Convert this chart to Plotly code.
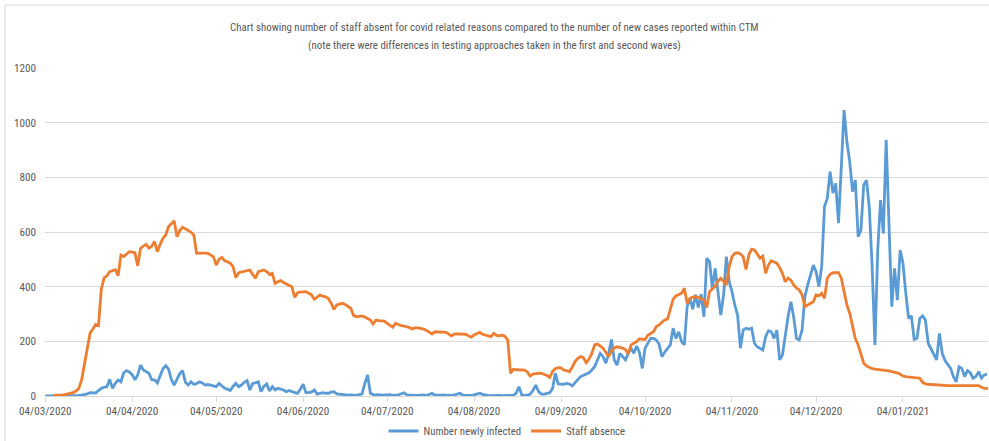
import pandas as pd
import plotly.graph_objects as go

# ---------------- data ----------------
infected_start = "2020-03-04"
absence_start = "2020-03-07"

newly_infected = [
    0, 0, 0, 0, 0, 0, 0, 0, 0, 1,
    1, 2, 2, 3, 5, 8, 12, 12, 11, 20,
    28, 32, 34, 61, 28, 46, 58, 52, 85, 93,
    88, 78, 59, 77, 113, 95, 89, 83, 59, 59,
    48, 75, 100, 111, 98, 60, 40, 62, 82, 93,
    50, 40, 52, 43, 45, 52, 48, 40, 42, 40,
    38, 34, 46, 38, 28, 25, 20, 35, 46, 34,
    40, 50, 56, 22, 46, 48, 52, 16, 35, 44,
    18, 34, 22, 28, 26, 22, 16, 20, 16, 12,
    10, 25, 43, 12, 12, 15, 22, 7, 10, 12,
    10, 10, 14, 16, 8, 7, 4, 5, 3, 4,
    3, 2, 5, 7, 45, 77, 10, 5, 4, 5,
    3, 4, 3, 5, 2, 3, 4, 8, 12, 4,
    3, 2, 3, 2, 3, 4, 2, 5, 10, 3,
    2, 3, 4, 2, 3, 2, 4, 6, 10, 3,
    2, 3, 2, 4, 8, 10, 6, 3, 2, 1,
    2, 1, 2, 1, 2, 1, 2, 3, 10, 34,
    4, 2, 3, 7, 20, 40, 16, 7, 7, 10,
    12, 28, 83, 44, 44, 43, 46, 44, 37, 50,
    60, 71, 75, 80, 85, 95, 107, 132, 156, 144,
    120, 156, 207, 132, 113, 156, 144, 132, 156, 175,
    156, 183, 159, 101, 175, 193, 211, 211, 205, 189,
    144, 160, 175, 187, 248, 211, 235, 199, 187, 327,
    357, 317, 370, 324, 373, 290, 504, 491, 394, 467,
    382, 296, 370, 510, 418, 382, 333, 296, 175, 241,
    248, 244, 248, 193, 180, 175, 168, 217, 239, 235,
    211, 241, 132, 150, 229, 290, 345, 290, 211, 205,
    241, 363, 406, 440, 479, 455, 400, 473, 693, 723,
    821, 742, 778, 632, 839, 1046, 930, 857, 748, 790,
    583, 607, 772, 790, 687, 473, 187, 534, 717, 595,
    937, 656, 327, 467, 351, 534, 486, 376, 284, 293,
    207, 211, 284, 293, 278, 193, 171, 150, 132, 229,
    156, 130, 113, 101, 71, 52, 107, 101, 71, 93,
    85, 65, 71, 89, 65, 77, 80,
]

staff_absence = [
    2, 2, 3, 4, 5, 7, 9, 12, 18, 28,
    60, 120, 175, 230, 245, 262, 258, 390, 432, 440,
    455, 460, 462, 440, 515, 510, 520, 528, 526, 524,
    476, 540, 548, 555, 541, 548, 565, 528, 555, 577,
    589, 620, 630, 641, 583, 605, 617, 612, 608, 600,
    589, 522, 523, 524, 523, 522, 515, 510, 479, 500,
    507, 495, 491, 486, 473, 433, 451, 453, 455, 458,
    461, 445, 431, 455, 458, 461, 455, 445, 449, 412,
    418, 422, 415, 409, 404, 400, 361, 378, 380, 381,
    382, 376, 370, 354, 362, 370, 365, 363, 357, 340,
    317, 333, 336, 339, 335, 329, 321, 295, 290, 291,
    293, 289, 282, 278, 263, 278, 276, 275, 274, 266,
    260, 251, 266, 260, 257, 256, 254, 250, 245, 250,
    249, 248, 245, 240, 235, 227, 235, 234, 234, 233,
    233, 226, 220, 227, 227, 226, 226, 226, 220, 215,
    223, 228, 233, 226, 223, 220, 217, 229, 222, 220,
    223, 218, 205, 83, 98, 96, 95, 95, 95, 88,
    73, 80, 83, 84, 83, 80, 75, 68, 90, 100,
    104, 103, 95, 93, 89, 105, 126, 138, 144, 140,
    122, 135, 156, 187, 190, 183, 175, 160, 144, 165,
    176, 180, 178, 175, 170, 154, 187, 193, 199, 209,
    208, 207, 222, 229, 235, 254, 260, 270, 278, 281,
    315, 354, 366, 372, 376, 394, 339, 357, 362, 363,
    361, 356, 351, 324, 382, 392, 400, 420, 431, 420,
    406, 473, 510, 522, 524, 520, 510, 463, 516, 537,
    534, 520, 504, 512, 449, 479, 495, 490, 486, 470,
    449, 418, 431, 424, 406, 395, 388, 370, 327, 333,
    340, 345, 370, 366, 376, 357, 431, 445, 451, 451,
    451, 431, 376, 333, 303, 254, 210, 187, 150, 120,
    110, 104, 100, 98, 97, 96, 95, 95, 92, 89,
    88, 85, 80, 73, 71, 70, 68, 67, 66, 65,
    50, 44, 43, 42, 41, 40, 40, 39, 38, 38,
    38, 38, 38, 38, 38, 38, 38, 38, 38, 38,
    38, 32, 28, 28, 28,
]

tick_dates = ["2020-03-04", "2020-04-04", "2020-05-04", "2020-06-04", "2020-07-04",
              "2020-08-04", "2020-09-04", "2020-10-04", "2020-11-04", "2020-12-04",
              "2021-01-04"]
tick_labels = ["04/03/2020", "04/04/2020", "04/05/2020", "04/06/2020", "04/07/2020",
               "04/08/2020", "04/09/2020", "04/10/2020", "04/11/2020", "04/12/2020",
               "04/01/2021"]
y_ticks = [0, 200, 400, 600, 800, 1000, 1200]

series_names = ["Number newly infected", "Staff absence"]
title_lines = [
    "Chart showing number of staff absent for covid related reasons compared to the number of new cases reported within CTM",
    "(note there were differences in testing approaches taken in the first and second waves)",
]

# ---------------- figure ----------------
inf_dates = pd.date_range(infected_start, periods=len(newly_infected), freq="D")
abs_dates = pd.date_range(absence_start, periods=len(staff_absence), freq="D")

BLUE = "#5B9BD5"
ORANGE = "#ED7D31"
GREY_TXT = "#595959"
GRID = "#D9D9D9"
FONT = "Liberation Sans Narrow, Arial Narrow, Roboto Condensed, Liberation Sans, sans-serif"

fig = go.Figure()
fig.add_trace(go.Scatter(x=inf_dates, y=newly_infected, mode="lines",
                         name=series_names[0],
                         line=dict(color=BLUE, width=2.8)))
fig.add_trace(go.Scatter(x=abs_dates, y=staff_absence, mode="lines",
                         name=series_names[1],
                         line=dict(color=ORANGE, width=2.8)))

W, H = 989, 441
L, R, T, B = 45, 1, 68, 45
pw, ph = W - L - R, H - T - B

annotations = []
for line, yc in zip(title_lines, [27, 45]):
    annotations.append(dict(text=line, xref="paper", yref="paper",
                            x=(494 - L) / pw, xanchor="center",
                            y=(T + ph - yc) / ph, yanchor="middle",
                            showarrow=False,
                            font=dict(family=FONT, size=10.9, color=GREY_TXT)))

fig.update_layout(
    width=W, height=H,
    margin=dict(l=L, r=R, t=T, b=B, autoexpand=False),
    paper_bgcolor="white", plot_bgcolor="white",
    font=dict(family=FONT, size=10, color=GREY_TXT),
    annotations=annotations,
    showlegend=True,
    legend=dict(orientation="h", xref="container", yref="container",
                x=507 / W, xanchor="center",
                y=1 - 431 / H, yanchor="middle",
                font=dict(family=FONT, size=10.8, color=GREY_TXT),
                itemwidth=30, tracegroupgap=0),
    xaxis=dict(type="date", automargin=False,
               range=["2020-03-03 22:00", "2021-02-03 08:00"],
               tickvals=tick_dates, ticktext=tick_labels,
               showgrid=False, showline=True, linecolor=GRID, linewidth=1,
               ticks="outside", ticklen=5, tickcolor=GRID,
               tickfont=dict(family=FONT, size=11.2, color=GREY_TXT),
               zeroline=False),
    yaxis=dict(range=[0, 1200], tickvals=y_ticks, automargin=False,
               showgrid=True, gridcolor=GRID, gridwidth=1,
               showline=False, zeroline=False, ticks="",
               ticklabelstandoff=8,
               tickfont=dict(family=FONT, size=11.2, color=GREY_TXT)),
    shapes=[dict(type="rect", xref="paper", yref="paper",
                 x0=(5 - L) / pw, x1=(1100 - L) / pw,
                 y0=-(500 - (T + ph)) / ph, y1=(T + ph - 5) / ph,
                 line=dict(color=GRID, width=1), fillcolor="rgba(0,0,0,0)",
                 layer="below")],
)

fig.write_html("out.html",
               config={"displayModeBar": False},
               post_script="document.body.style.margin='0';"
                           "document.body.style.overflow='hidden';")
